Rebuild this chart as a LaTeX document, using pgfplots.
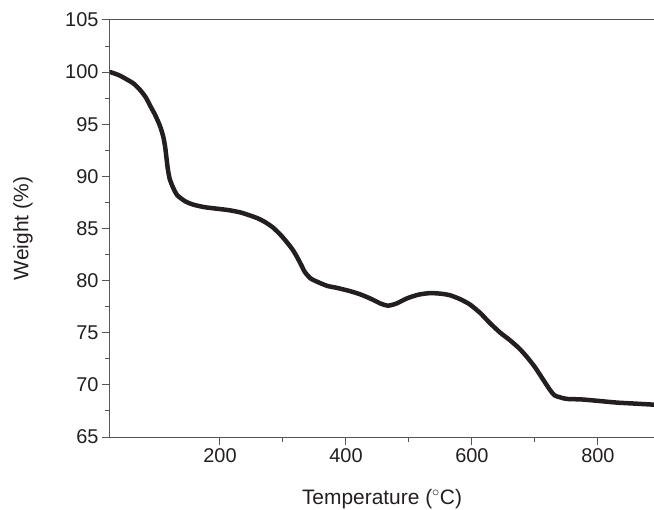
\documentclass[border=0pt]{standalone}
\usepackage{fontspec}
\setmainfont{Liberation Sans}
\usepackage{pgfplots}
\pgfplotsset{compat=1.18}
\definecolor{curve}{HTML}{231F20}
\definecolor{axc}{HTML}{555555}
\begin{document}
\begin{tikzpicture}
\useasboundingbox (-110bp,-73bp) rectangle (544bp,437bp);
\begin{axis}[
  at={(0,0)}, anchor=south west,
  scale only axis, width=544bp, height=417bp,
  xmin=25.4, xmax=889, ymin=65, ymax=105,
  xtick={200,400,600,800}, ytick={65,70,...,105},
  minor x tick num=1, minor y tick num=1,
  axis x line*=box, axis y line*=left,
  axis line style={-, axc, line width=1bp},
  xtick pos=bottom, ytick pos=left,
  tick align=outside,
  major tick length=8bp, minor tick length=5bp,
  tick style={axc, line width=1bp},
  /pgf/number format/assume math mode=true,
  ticklabel style={font=\fontsize{20}{20}\selectfont, text=curve},
  xlabel={Temperature ($^{\circ}$C)},
  ylabel={Weight (\%)},
  every axis x label/.style={at={(rel axis cs:0.5,0)}, yshift=-62bp, anchor=center, font=\fontsize{21}{21}\selectfont, text=curve},
  every axis y label/.style={at={(rel axis cs:0,0.5)}, xshift=-87bp, rotate=90, anchor=center, font=\fontsize{21}{21}\selectfont, text=curve},
  clip=true,
]
\addplot[curve, line width=4.5bp, line join=round, line cap=round, smooth, tension=0.4] coordinates {
(26,100.0) (40,99.7) (52,99.3) (63,98.9) (73,98.3) (82,97.6) (89,96.8) (97,95.9)
(105,94.8) (110,93.8) (113,92.8) (115,91.8) (117,90.8) (120,89.8) (125,89.0)
(132,88.2) (145,87.6) (157,87.3) (175,87.05) (195,86.9) (215,86.75) (235,86.5)
(259,86.0) (272,85.6) (284,85.1) (296,84.4) (306,83.7) (315,83.0) (322,82.3)
(329,81.5) (335,80.8) (344,80.2) (354,79.9) (370,79.5) (386,79.3) (406,79.0)
(422,78.7) (438,78.3) (455,77.8) (467,77.6) (480,77.8) (497,78.3) (515,78.65)
(533,78.8) (550,78.75) (565,78.6) (582,78.2) (597,77.7) (613,76.9) (629,75.9)
(645,75.0) (660,74.3) (675,73.5) (687,72.7) (700,71.7) (712,70.6) (724,69.5)
(731,69.0) (740,68.8) (751,68.65) (775,68.6) (803,68.45) (830,68.3) (860,68.2)
(889,68.1)
};
\end{axis}
\end{tikzpicture}
\end{document}
